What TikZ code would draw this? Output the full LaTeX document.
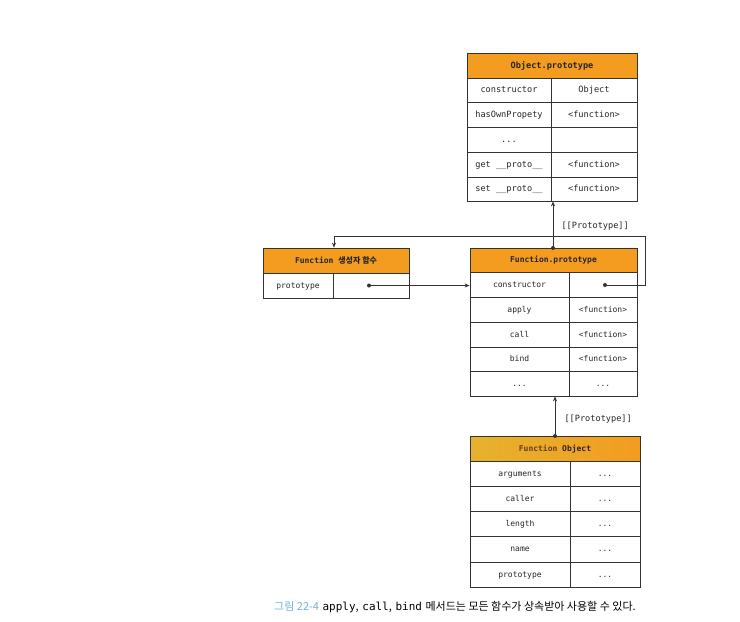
\documentclass[tikz,border=0pt]{standalone}
\usepackage{fontspec}
\setmonofont{DejaVu Sans Mono}
\newfontfamily\kr{Noto Sans CJK KR}
\usetikzlibrary{arrows.meta}
\definecolor{hdr}{HTML}{F39C1F}
\definecolor{hdrgold}{HTML}{E6B22E}
\definecolor{ln}{HTML}{333333}
\definecolor{capblue}{HTML}{6FB4DD}
\tikzset{
  cell/.style={draw=ln,line width=0.8pt,inner sep=0pt,text height=1.6ex,text depth=0.4ex,font=\ttfamily\fontsize{8}{9}\selectfont,text=black!85},
  bigcell/.style={cell,font=\ttfamily\fontsize{8.6}{10}\selectfont},
  hcell/.style={cell,fill=hdr,font=\ttfamily\bfseries\fontsize{8}{9}\selectfont},
  bighcell/.style={hcell,font=\ttfamily\bfseries\fontsize{8.6}{10}\selectfont},
  conn/.style={draw=ln,line width=0.8pt},
  arr/.style={conn,-{Stealth[length=5pt,width=4pt]}},
  dotc/.style={circle,fill=ln,inner sep=0pt,minimum size=4pt},
  lbl/.style={font=\ttfamily\fontsize{8.6}{10}\selectfont,text=black!85}
}
\newcommand\cell[7][cell]{\node[#1,minimum width={(#5-#3)*1pt},minimum height={(#6-#4)*1pt}] (#2) at ({(#3+#5)/2},{(#4+#6)/2}) {#7};}
\begin{document}
\begin{tikzpicture}[x=1pt,y=-1pt]
\useasboundingbox[fill=white] (0,0) rectangle (740,622);
% Object.prototype
\cell[bighcell]{oph}{467}{53}{637}{78}{Object.prototype}
\cell[bigcell]{op1a}{467}{78}{551}{102.5}{constructor}
\cell[bigcell]{op1b}{551}{78}{637}{102.5}{Object}
\cell[bigcell]{op2a}{467}{102.5}{551}{127}{hasOwnPropety}
\cell[bigcell]{op2b}{551}{102.5}{637}{127}{<function>}
\cell[bigcell]{op3a}{467}{127}{551}{152}{...}
\cell[bigcell]{op3b}{551}{127}{637}{152}{}
\cell[bigcell]{op4a}{467}{152}{551}{177}{get \_\_proto\_\_}
\cell[bigcell]{op4b}{551}{152}{637}{177}{<function>}
\cell[bigcell]{op5a}{467}{177}{551}{201}{set \_\_proto\_\_}
\cell[bigcell]{op5b}{551}{177}{637}{201}{<function>}
% Function constructor
\cell[hcell]{fch}{263}{248}{409}{273}{Function {\kr\bfseries 생성자 함수}}
\cell{fc1a}{263}{273}{333}{298}{prototype}
\cell{fc1b}{333}{273}{409}{298}{}
% Function.prototype
\cell[hcell]{fph}{470}{248}{637}{272.5}{Function.prototype}
\cell{fp1a}{470}{272.5}{569}{297.5}{constructor}
\cell{fp1b}{569}{272.5}{637}{297.5}{}
\cell{fp2a}{470}{297.5}{569}{322}{apply}
\cell{fp2b}{569}{297.5}{637}{322}{<function>}
\cell{fp3a}{470}{322}{569}{347}{call}
\cell{fp3b}{569}{322}{637}{347}{<function>}
\cell{fp4a}{470}{347}{569}{371}{bind}
\cell{fp4b}{569}{347}{637}{371}{<function>}
\cell{fp5a}{470}{371}{569}{396}{...}
\cell{fp5b}{569}{371}{637}{396}{...}
% Function Object
\shade[left color=hdrgold,right color=hdr] (470,436) rectangle (640,461);
\cell[cell,font=\ttfamily\bfseries\fontsize{8}{9}\selectfont]{foh}{470}{436}{640}{461}{{\color{black!50!brown}Function} Object}
\cell{fo1a}{470}{461}{570}{486}{arguments}
\cell{fo1b}{570}{461}{640}{486}{...}
\cell{fo2a}{470}{486}{570}{511}{caller}
\cell{fo2b}{570}{486}{640}{511}{...}
\cell{fo3a}{470}{511}{570}{536.5}{length}
\cell{fo3b}{570}{511}{640}{536.5}{...}
\cell{fo4a}{470}{536.5}{570}{562}{name}
\cell{fo4b}{570}{536.5}{640}{562}{...}
\cell{fo5a}{470}{562}{570}{587}{prototype}
\cell{fo5b}{570}{562}{640}{587}{...}
% connectors
\node[dotc] (fptop) at (553,248) {};
\draw[arr] (fptop.center) -- (fptop.center |- op5a.south);
\node[lbl,anchor=west] (l1) at (558,226) {[[Prototype]]};
\node[dotc] (fcdot) at (369,285.5) {};
\draw[arr] (fcdot.center) -- (fp1a.west |- fcdot.center);
\node[dotc] (fpdot) at (605,285) {};
\coordinate (lpA) at (645,285);
\coordinate (lpB) at (645,236);
\coordinate (lpC) at (334,236);
\draw[arr] (fpdot.center) -- (lpA) -- (lpB) -- (lpC) -- (lpC |- fch.north);
\node[dotc] (fotop) at (555,436) {};
\draw[arr] (fotop.center) -- (fotop.center |- fp5a.south);
\node[lbl,anchor=west] (l2) at (561,419) {[[Prototype]]};
% caption
\node[anchor=base west,inner sep=0pt,font=\fontsize{11}{13}\selectfont] (cap) at (274,610) {{\kr\color{capblue}그림 22-4} \texttt{apply}{\kr,} \texttt{call}{\kr,} \texttt{bind} {\kr 메서드는 모든 함수가 상속받아 사용할 수 있다.}};
\end{tikzpicture}
\end{document}
